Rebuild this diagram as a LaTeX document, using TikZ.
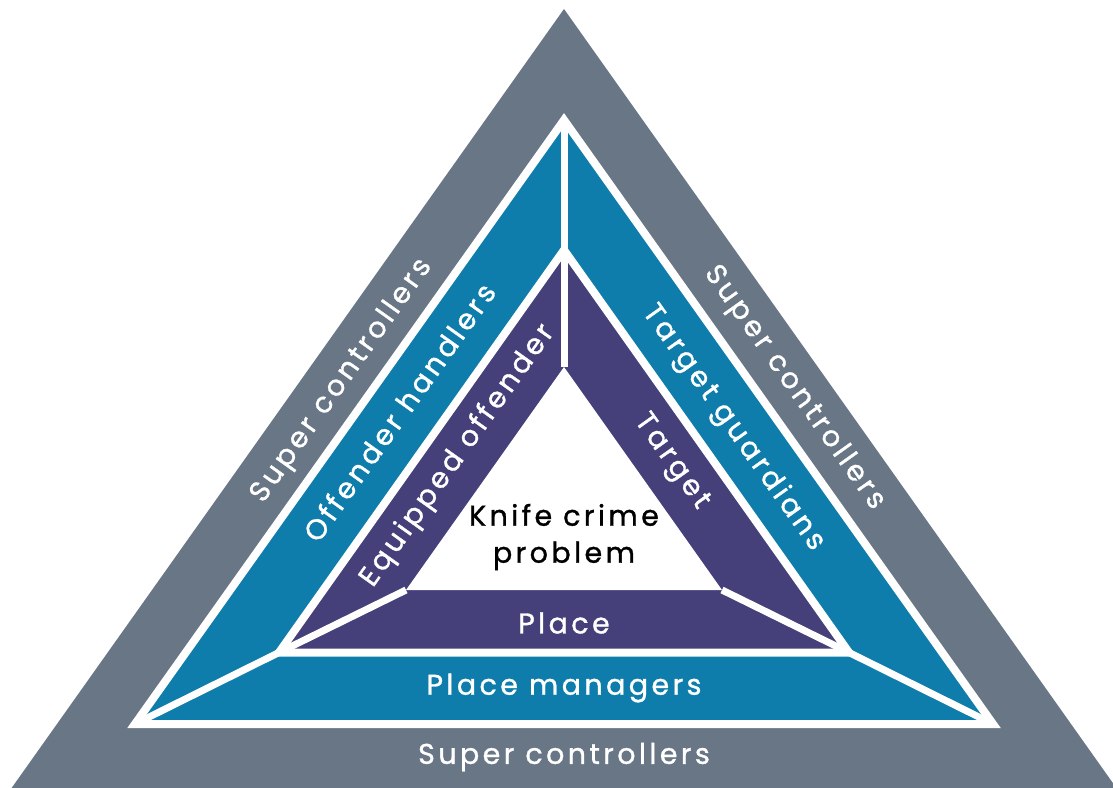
\documentclass[tikz,border=0pt]{standalone}
\usepackage{fontspec}
\setmainfont{Poppins}[LetterSpace=12, FakeBold=1.1]
\definecolor{greyc}{RGB}{104,118,133}
\definecolor{tealc}{RGB}{14,125,171}
\definecolor{purplec}{RGB}{69,64,122}
\begin{document}
\begin{tikzpicture}[x=1pt,y=-1pt,
  band/.style={draw=white, line width=8pt, line join=miter, miter limit=10},
  sep/.style={draw=white, line width=7pt},
  lbl/.style={text=white, font=\fontsize{28.5}{32}\selectfont, inner sep=0pt, anchor=center},
]
\useasboundingbox (0,0) rectangle (1113,787);
\clip (0,0) rectangle (1113,787);
% coordinates
\coordinate (GA) at (564,9);
\coordinate (GL) at (-4,810);
\coordinate (GR) at (1132,810);
\coordinate (TA) at (564,120);
\coordinate (TL) at (135,724);
\coordinate (TR) at (993,724);
\coordinate (PA) at (564,250);
\coordinate (PL) at (279,652.5);
\coordinate (PR) at (849,652.5);
\coordinate (WA) at (564,367);
\coordinate (WL) at (406,590);
\coordinate (WR) at (722,590);
% outer
\fill[greyc] (GA) -- (GL) -- (GR) -- cycle;
% teal layer
\filldraw[fill=tealc, band] (TA) -- (TL) -- (TR) -- cycle;
\draw[sep] (TA) -- (PA);
\draw[sep] (TL) -- (PL);
\draw[sep] (TR) -- (PR);
% purple layer
\filldraw[fill=purplec, band] (PA) -- (PL) -- (PR) -- cycle;
\draw[sep] (PA) -- (WA);
\draw[sep] (PL) -- (WL);
\draw[sep] (PR) -- (WR);
% inner
\fill[white] (WA) -- (WL) -- (WR) -- cycle;
% labels
\node[lbl] (scb) at (564,757) {Super controllers};
\node[lbl] (pm) at (564,688) {Place managers};
\node[lbl] (pl) at (564,623) {Place};
\node[lbl, text=black, align=center, font=\fontsize{28.5}{37}\selectfont] (kc) at (564,537) {Knife crime\\problem};
\node[lbl, rotate=54.6] (scl) at (342,381) {Super controllers};
\node[lbl, rotate=54.6] (oh) at (399,412) {Offender handlers};
\node[lbl, rotate=54.6] (eo) at (458,456) {Equipped offender};
\node[lbl, rotate=-54.6] (scr) at (794,388) {Super controllers};
\node[lbl, rotate=-54.6] (tg) at (733,428) {Target guardians};
\node[lbl, rotate=-54.6] (tt) at (671,462) {Target};
\end{tikzpicture}
\end{document}
